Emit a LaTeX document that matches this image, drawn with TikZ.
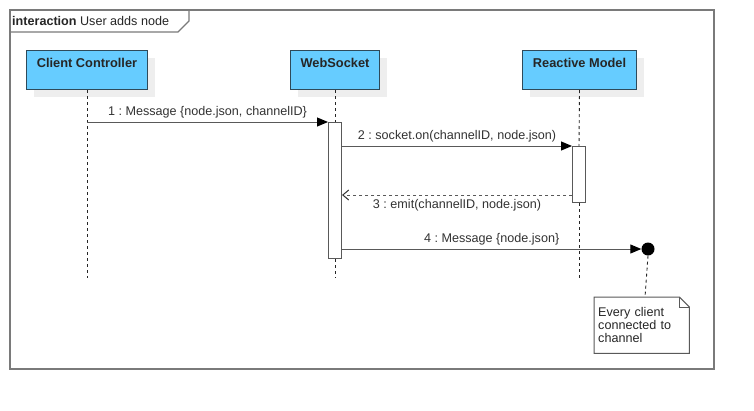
\documentclass[tikz,border=0pt]{standalone}
\usepackage{fontspec}
\setmainfont{Liberation Sans}
\usetikzlibrary{shadows,arrows.meta,calc}
\definecolor{headfill}{HTML}{66CCFF}
\definecolor{headline}{HTML}{2E4A5A}
\definecolor{linegray}{HTML}{595959}
\definecolor{framegray}{HTML}{7A7A7A}
\definecolor{txt}{HTML}{333333}
\definecolor{shade}{HTML}{EEEEEE}
\frenchspacing
\tikzset{
  x=1pt, y=-1pt,
  every node/.style={font=\fontsize{12.6}{13}\selectfont},
  head/.style={draw=headline, fill=headfill, line width=1pt, anchor=north west,
    inner xsep=0pt, inner ysep=4pt, text height=12.5pt, text depth=18.5pt,
    font=\fontsize{12.8}{13}\selectfont\bfseries, text=black!85,
    drop shadow={shadow xshift=7pt, shadow yshift=-7pt, fill=shade, opacity=1}},
  bar/.style={draw=linegray, fill=white, line width=1pt, anchor=north west,
    minimum width=13pt, inner sep=0pt},
  life/.style={draw=black!85, line width=0.9pt, dash pattern=on 3pt off 3pt},
  msg/.style={draw=linegray, line width=1pt,
    -{Triangle[length=11pt,width=9pt,color=black]}},
  reply/.style={draw=linegray, line width=1pt, dash pattern=on 3pt off 3pt,
    -{Straight Barb[length=6pt,width=10pt,color=black!80]}},
  lbl/.style={text=txt, inner sep=0pt},
  frameline/.style={draw=framegray, line width=1.2pt},
  noteline/.style={draw=linegray, line width=1pt}
}
\begin{document}
\begin{tikzpicture}
\useasboundingbox[fill=white] (0,0) rectangle (754,410);

% interaction frame and its title tab
\draw[frameline] (10,10) rectangle (714,369);
\draw[frameline] (10,32) -- (178,32) -- (189,21) -- (189,10);
\node[anchor=west, inner sep=0pt, text=black!85] (title) at (12,21)
  {\textbf{interaction} User adds node};

% lifeline heads
\node[head, minimum width=121pt] (cc) at (26,50) {Client Controller};
\node[head, minimum width=89pt]  (ws) at (290,50) {WebSocket};
\node[head, minimum width=114pt] (rm) at (522,50) {Reactive Model};

% activation bars
\node[bar, minimum height=136pt] (b1) at (328,122) {};
\node[bar, minimum height=56pt]  (b2) at (572,146) {};

% lifeline ends
\coordinate (ccend) at (87,278);
\coordinate (wsend) at (335,278);
\coordinate (rmend) at (579,278);

% lifelines
\draw[life] (cc.south) -- (ccend);
\draw[life] (ws.south) -- (b1.north);
\draw[life] (b1.south) -- (wsend);
\draw[life] (rm.south) -- (b2.north);
\draw[life] (b2.south) -- (rmend);

% messages
\draw[msg] (cc.south |- b1.north) -- (b1.north west)
  node[lbl, midway, yshift=10pt] {1 : Message \{node.json, channelID\}};
\draw[msg] (b1.east |- b2.north) -- (b2.north west)
  node[lbl, midway, yshift=10pt] {2 : socket.on(channelID, node.json)};
\coordinate (r3) at ([yshift=8pt]b2.south west);
\draw[reply] (r3) -- (b1.east |- r3)
  node[lbl, midway, yshift=-10pt] {3 : emit(channelID, node.json)};

% broadcast end point and its note
\node[circle, fill=black, minimum size=13pt, inner sep=0pt] (dot) at (648,249) {};
\draw[msg] (b1.east |- dot) -- (dot.west)
  node[lbl, midway, yshift=10pt] {4 : Message \{node.json\}};

\node[anchor=north west, minimum width=95pt, minimum height=56pt, inner xsep=4pt,
  text width=87pt, align=left, text=black!85] (note) at (594,297)
  {Every client\\connected to\\channel};
\draw[noteline] (note.north west) -- ([xshift=-10pt]note.north east)
  -- ([yshift=-10pt]note.north east) -- (note.south east) -- (note.south west) -- cycle;
\draw[noteline] ([xshift=-10pt]note.north east) -- ([xshift=-10pt,yshift=-10pt]note.north east)
  -- ([yshift=-10pt]note.north east);
\draw[life] (dot.south) -- ([xshift=51pt]note.north west);
\end{tikzpicture}
\end{document}
